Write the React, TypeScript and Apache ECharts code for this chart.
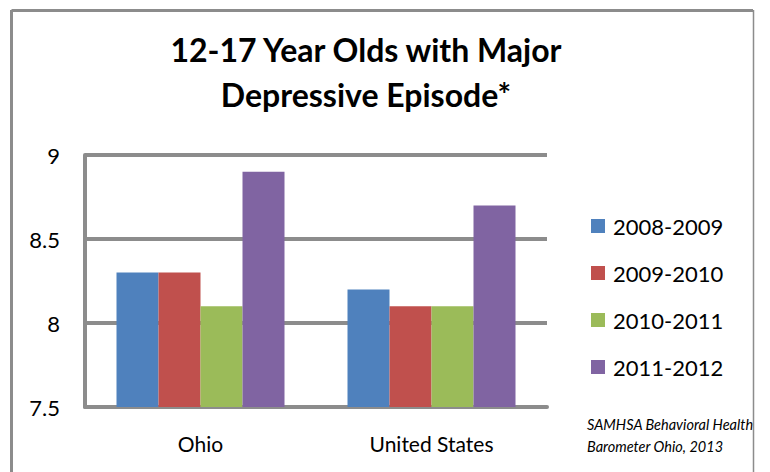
import React, { useEffect, useRef } from "react";
import * as echarts from "echarts";

const categories = ["Ohio", "United States"];
const seriesNames = ["2008-2009", "2009-2010", "2010-2011", "2011-2012"];
const values2008 = [8.3, 8.2];
const values2009 = [8.3, 8.1];
const values2010 = [8.1, 8.1];
const values2011 = [8.9, 8.7];
const colors = ["#4F81BD", "#C0504D", "#9BBB59", "#8064A2"];
const titleText = "12-17 Year Olds with Major\nDepressive Episode*";
const sourceLines = ["SAMHSA Behavioral Health", "Barometer Ohio, 2013"];

const FONT = "Lato, 'Open Sans', sans-serif";

export default function App() {
  const ref = useRef<HTMLDivElement>(null);

  useEffect(() => {
    if (!ref.current) return;
    const chart = echarts.init(ref.current, null, { renderer: "svg" });
    const allValues = [values2008, values2009, values2010, values2011];
    chart.setOption({
      animation: false,
      backgroundColor: "#ffffff",
      title: {
        text: titleText,
        left: 361,
        top: 22,
        textAlign: "center",
        textStyle: {
          fontFamily: FONT,
          fontWeight: "bold",
          fontSize: 32,
          lineHeight: 45,
          color: "#000",
        },
      },
      legend: {
        orient: "vertical",
        left: 586,
        top: 210,
        itemWidth: 14,
        itemHeight: 14,
        itemGap: 25,
        icon: "rect",
        data: seriesNames,
        textStyle: {
          fontFamily: FONT,
          fontSize: 22,
          color: "#000",
          padding: [0, 0, 0, 3],
        },
      },
      grid: { left: 85, right: 223, top: 155, bottom: 65 },
      xAxis: {
        type: "category",
        data: categories,
        axisLine: { show: true, lineStyle: { color: "#8c8c8c", width: 4 } },
        axisTick: { show: false },
        axisLabel: {
          fontFamily: FONT,
          fontSize: 21,
          color: "#000",
          margin: 26,
        },
      },
      yAxis: {
        type: "value",
        min: 7.5,
        max: 9,
        interval: 0.5,
        axisLine: { show: true, lineStyle: { color: "#8c8c8c", width: 4 } },
        axisTick: { show: false },
        splitLine: { show: true, lineStyle: { color: "#8c8c8c", width: 4 } },
        axisLabel: {
          fontFamily: FONT,
          fontSize: 22,
          color: "#000",
          margin: 25,
        },
      },
      series: seriesNames.map((name, i) => ({
        name,
        type: "bar",
        data: allValues[i],
        barWidth: 42,
        barGap: "0%",
        itemStyle: { color: colors[i] },
      })),
      graphic: [
        {
          type: "line",
          shape: { x1: 11.5, y1: 10.5, x2: 753, y2: 10.5 },
          style: { stroke: "#8c8c8c", lineWidth: 3 },
          z: 10,
        },
        {
          type: "line",
          shape: { x1: 11.5, y1: 10, x2: 11.5, y2: 472 },
          style: { stroke: "#8c8c8c", lineWidth: 3 },
          z: 10,
        },
        {
          type: "line",
          shape: { x1: 753.5, y1: 10, x2: 753.5, y2: 472 },
          style: { stroke: "#8c8c8c", lineWidth: 1.5 },
          z: 10,
        },
        {
          type: "text",
          left: 587,
          top: 413,
          style: {
            text: sourceLines.join("\n"),
            fontFamily: FONT,
            fontStyle: "italic",
            fontSize: 14.5,
            lineHeight: 22,
            fill: "#000",
          },
          z: 5,
        },
      ],
    });
    return () => chart.dispose();
  }, []);

  return <div ref={ref} style={{ width: 770, height: 472, position: "absolute", left: 0, top: 0 }} />;
}
